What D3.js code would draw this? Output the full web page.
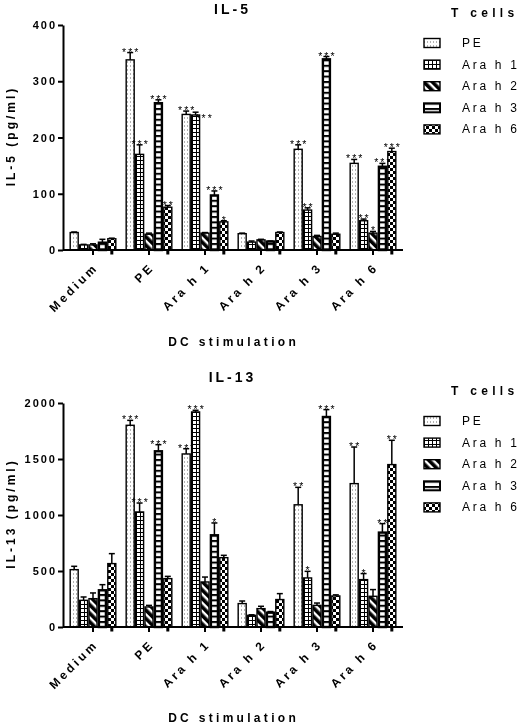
<!DOCTYPE html>
<html><head><meta charset="utf-8">
<script src="https://cdn.jsdelivr.net/npm/d3@7"></script>
<style>
body{margin:0;background:#fff}
svg{display:block;will-change:transform}
text{font-family:"Liberation Sans",Arial,Helvetica,sans-serif;fill:#000}
</style>
</head><body>
<svg id="chart" width="520" height="724"></svg>
<script>
// ---------- DATA ----------
const categories = ["Medium", "PE", "Ara h 1", "Ara h 2", "Ara h 3", "Ara h 6"];
const seriesNames = ["PE", "Ara h 1", "Ara h 2", "Ara h 3", "Ara h 6"];

// IL-5 (pg/ml): rows = DC stimulation, columns = T cells series
const il5Values = [
  [31, 9, 9, 13, 20],
  [338, 170, 28, 261, 76],
  [241, 240, 30, 97, 50],
  [29, 14, 18, 15, 31],
  [179, 71, 24, 339, 28],
  [154, 52, 30, 148, 175]
];
const il5Errors = [
  [1, 1, 2, 6, 1],
  [13, 17, 2, 6, 3],
  [6, 5, 1, 8, 2],
  [1, 2, 1, 1, 1],
  [8, 4, 2, 5, 2],
  [7, 3, 3, 6, 6]
];
const il5Stars = [
  ["", "", "", "", ""],
  ["***", "***", "", "***", "**"],
  ["***", "***", "", "***", "*"],
  ["", "", "", "", ""],
  ["***", "**", "", "***", ""],
  ["***", "**", "*", "***", "***"]
];
const il5Ticks = [0, 100, 200, 300, 400];

// IL-13 (pg/ml)
const il13Values = [
  [512, 238, 253, 328, 566],
  [1801, 1027, 179, 1569, 432],
  [1545, 1920, 402, 819, 619],
  [209, 104, 164, 128, 245],
  [1091, 438, 193, 1875, 277],
  [1280, 423, 274, 843, 1450]
];
const il13Errors = [
  [30, 30, 51, 50, 89],
  [44, 80, 14, 59, 20],
  [47, 15, 44, 110, 21],
  [23, 5, 21, 10, 53],
  [156, 59, 21, 66, 10],
  [327, 54, 60, 80, 217]
];
const il13Stars = [
  ["", "", "", "", ""],
  ["***", "***", "", "***", ""],
  ["***", "***", "", "*", ""],
  ["", "", "", "", ""],
  ["**", "*", "", "***", ""],
  ["**", "*", "", "**", "**"]
];
const il13Ticks = [0, 500, 1000, 1500, 2000];

// ---------- DRAW ----------
const svg = d3.select("#chart");
svg.append("rect").attr("width", 520).attr("height", 724).attr("fill", "#fff");

const defs = svg.append("defs");
// PE: dots
const pDots = defs.append("pattern").attr("id", "p0").attr("patternUnits", "userSpaceOnUse")
  .attr("width", 3).attr("height", 4);
pDots.append("rect").attr("width", 3).attr("height", 4).attr("fill", "#fff");
pDots.append("rect").attr("x", 1).attr("y", 1.5).attr("width", 1).attr("height", 1).attr("fill", "#666");
// Ara h 1: grid
const pGrid = defs.append("pattern").attr("id", "p1").attr("patternUnits", "userSpaceOnUse")
  .attr("width", 4).attr("height", 4);
pGrid.append("rect").attr("width", 4).attr("height", 4).attr("fill", "#fff");
pGrid.append("rect").attr("x", 0).attr("y", 0).attr("width", 4).attr("height", 1).attr("fill", "#000");
pGrid.append("rect").attr("x", 0).attr("y", 0).attr("width", 1).attr("height", 4).attr("fill", "#000");
// Ara h 2: diagonal stripes
const pDiag = defs.append("pattern").attr("id", "p2").attr("patternUnits", "userSpaceOnUse")
  .attr("width", 6).attr("height", 6).attr("patternTransform", "rotate(-45)");
pDiag.append("rect").attr("width", 6).attr("height", 6).attr("fill", "#fff");
pDiag.append("rect").attr("width", 3.6).attr("height", 6).attr("fill", "#000");
// Ara h 3: horizontal stripes
const pHor = defs.append("pattern").attr("id", "p3").attr("patternUnits", "userSpaceOnUse")
  .attr("width", 6).attr("height", 5.4);
pHor.append("rect").attr("width", 6).attr("height", 5.4).attr("fill", "#fff");
pHor.append("rect").attr("width", 6).attr("height", 2).attr("fill", "#000");
// Ara h 6: checkerboard
const pChk = defs.append("pattern").attr("id", "p4").attr("patternUnits", "userSpaceOnUse")
  .attr("width", 6).attr("height", 6);
pChk.append("rect").attr("width", 6).attr("height", 6).attr("fill", "#fff");
pChk.append("rect").attr("width", 3).attr("height", 3).attr("fill", "#000");
pChk.append("rect").attr("x", 3).attr("y", 3).attr("width", 3).attr("height", 3).attr("fill", "#000");

const strokeW = [1.4, 1.4, 1.4, 2.4, 1.4];

const x0 = d3.scaleBand().domain(categories).range([65, 401]).paddingInner(0.16).paddingOuter(0.08);
const x1 = d3.scaleBand().domain(seriesNames).range([0, x0.bandwidth()]).padding(0);

const panels = [
  { title: "IL-5", yLabel: "IL-5 (pg/ml)", values: il5Values, errors: il5Errors, stars: il5Stars,
    ticks: il5Ticks, top: 25, bottom: 250, titleY: 14, legendTop: 25, xTitleY: 346 },
  { title: "IL-13", yLabel: "IL-13 (pg/ml)", values: il13Values, errors: il13Errors, stars: il13Stars,
    ticks: il13Ticks, top: 403, bottom: 627, titleY: 382, legendTop: 403, xTitleY: 722 }
];

panels.forEach(p => {
  const y = d3.scaleLinear().domain([0, d3.max(p.ticks)]).range([p.bottom, p.top]);
  const g = svg.append("g");

  // title
  g.append("text").attr("x", 231).attr("y", p.titleY).attr("text-anchor", "middle")
    .attr("font-size", 14).attr("font-weight", "bold").attr("letter-spacing", 3)
    .attr("dx", 1.5).text(p.title);

  // y label
  const ly = (p.top + p.bottom) / 2;
  g.append("text").attr("transform", `translate(15,${ly}) rotate(-90)`).attr("text-anchor", "middle")
    .attr("font-size", 12).attr("font-weight", "bold").attr("letter-spacing", 3).attr("dx", 1.5)
    .text(p.yLabel);

  // bars
  p.values.forEach((row, ci) => {
    const cat = categories[ci];
    let prevLabel = null;
    row.forEach((v, si) => {
      const s = seriesNames[si];
      const bx = x0(cat) + x1(s);
      const bw = x1.bandwidth();
      const cx = bx + bw / 2;
      const e = p.errors[ci][si];
      // error bar
      g.append("line").attr("x1", cx).attr("x2", cx).attr("y1", y(v)).attr("y2", y(v + e))
        .attr("stroke", "#000").attr("stroke-width", 1.5);
      g.append("line").attr("x1", cx - 3).attr("x2", cx + 3).attr("y1", y(v + e)).attr("y2", y(v + e))
        .attr("stroke", "#000").attr("stroke-width", 1.5);
      // bar
      const sw = strokeW[si];
      g.append("rect").attr("x", bx + sw / 2).attr("y", y(v))
        .attr("width", bw - sw).attr("height", y(0) - y(v))
        .attr("fill", `url(#p${si})`).attr("stroke", "#000").attr("stroke-width", sw);
      if (si === 4) {
        g.append("rect").attr("x", cx - 1.5).attr("y", y(0)).attr("width", 3).attr("height", 4.5)
          .attr("fill", "#000");
      }
      // stars (nudged right/down when they would collide with the neighbour's stars)
      const st = p.stars[ci][si];
      if (st) {
        let lx = cx, lyy = y(v + e) + 3;
        if (prevLabel && Math.abs(prevLabel.y - lyy) < 12) { lx += 8; lyy += 7; }
        g.append("text").attr("x", lx).attr("y", lyy).attr("text-anchor", "middle")
          .attr("font-size", 10.5).attr("letter-spacing", 2).attr("dx", 1)
          .style("fill", "#000").text(st);
        prevLabel = { x: lx, y: lyy };
      } else {
        prevLabel = null;
      }
    });
  });

  // y axis
  const yAxis = d3.axisLeft(y).tickValues(p.ticks).tickSize(5).tickSizeOuter(0).tickPadding(3)
    .tickFormat(d3.format("d"));
  const ya = g.append("g").attr("transform", "translate(63,0)").call(yAxis);
  ya.select(".domain").attr("stroke-width", 2);
  ya.selectAll(".tick line").attr("stroke-width", 2);
  ya.selectAll(".tick text").attr("font-size", 11).attr("font-weight", "bold")
    .attr("letter-spacing", 2).attr("dx", 2)
    .attr("font-family", '"Liberation Sans",Arial,sans-serif').attr("fill", "#000");

  // x axis
  const xAxis = d3.axisBottom(x0).tickSize(5).tickSizeOuter(0);
  const xa = g.append("g").attr("transform", `translate(0,${p.bottom})`).call(xAxis);
  xa.select(".domain").attr("d", "M63,0H403").attr("stroke-width", 2);
  xa.selectAll(".tick line").attr("stroke-width", 2);
  xa.selectAll(".tick text").attr("font-size", 12).attr("font-weight", "bold")
    .attr("letter-spacing", 3).attr("text-anchor", "end")
    .attr("x", null).attr("y", null).attr("dy", null)
    .attr("transform", "translate(6,18) rotate(-45)")
    .attr("font-family", '"Liberation Sans",Arial,sans-serif').attr("fill", "#000");

  // x title
  g.append("text").attr("x", 232).attr("y", p.xTitleY).attr("text-anchor", "middle")
    .attr("font-size", 12).attr("font-weight", "bold").attr("letter-spacing", 3.3).attr("dx", 1.6)
    .text("DC stimulation");

  // legend
  const lg = g.append("g");
  lg.append("text").attr("x", 451).attr("y", p.legendTop - 12).attr("dominant-baseline", "central")
    .attr("font-size", 12).attr("font-weight", "bold").attr("letter-spacing", 4.3).text("T cells");
  seriesNames.forEach((s, si) => {
    const cy = p.legendTop + 18 + si * 21.6;
    lg.append("rect").attr("x", 424).attr("y", cy - 4.5).attr("width", 16).attr("height", 9)
      .attr("fill", `url(#p${si})`).attr("stroke", "#000").attr("stroke-width", si === 3 ? 2 : 1.4);
    lg.append("text").attr("x", 462).attr("y", cy).attr("dominant-baseline", "central")
      .attr("font-size", 12).attr("letter-spacing", 2.7).style("fill", "#000").text(s);
  });
});
</script>
</body></html>
